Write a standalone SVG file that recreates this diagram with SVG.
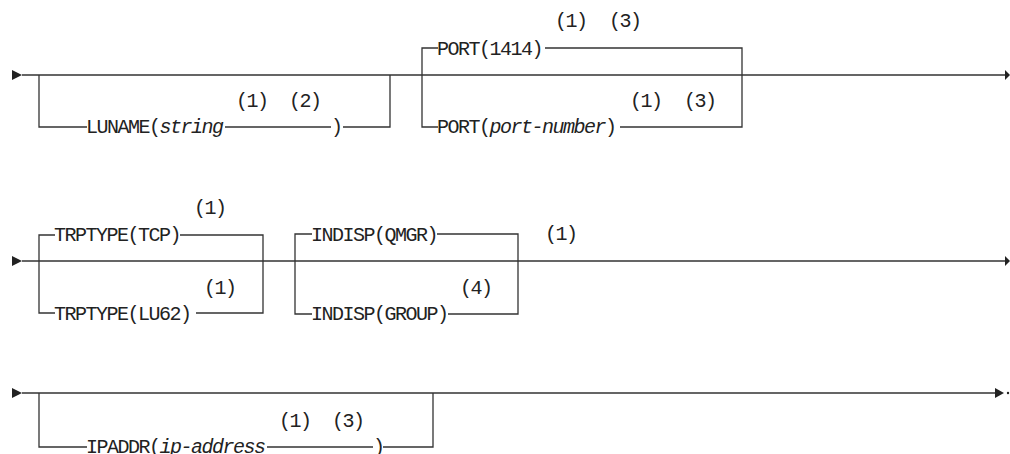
<svg xmlns="http://www.w3.org/2000/svg" width="1010" height="454" viewBox="0 0 1010 454">
<style>
.ln{stroke:#333;stroke-width:1.3;fill:none}
.t{font-family:"Liberation Mono","DejaVu Sans Mono",monospace;font-size:20px;letter-spacing:-1.5px;fill:#222}
.i{font-style:italic}
.ah{fill:#222}
</style>
<rect width="1010" height="454" fill="#fff"/>
<g id="connectors">
<path class="ln" d="M22 75H1006M22 261H1006M22 393H997"/>
<polygon class="ah" points="12,70 22,75 12,80"/>
<polygon class="ah" points="12,256 22,261 12,266"/>
<polygon class="ah" points="12,388 22,393 12,398"/>
<polygon class="ah" points="1005,70 1010,75 1005,80"/>
<polygon class="ah" points="1005,256 1010,261 1005,266"/>
<polygon class="ah" points="995,388 1004,393 995,398"/>
<circle class="ah" cx="1008" cy="393" r="1.2"/>
</g>
<g id="luname">
<path class="ln" d="M39 75V127H87M225 127H331M343 127H390V75"/>
<text class="t" x="86" y="133">LUNAME(<tspan class="i">string</tspan></text>
<text class="t" x="331" y="133">)</text>
<text class="t" x="236" y="107">(1)</text>
<text class="t" x="289" y="107">(2)</text>
</g>
<g id="port">
<path class="ln" d="M438 48H422V127H438M545 48H742V127H620"/>
<text class="t" x="437" y="55">PORT(1414)</text>
<text class="t" x="555" y="27">(1)</text>
<text class="t" x="609" y="27">(3)</text>
<text class="t" x="437" y="133">PORT(<tspan class="i">port-number</tspan>)</text>
<text class="t" x="630" y="107">(1)</text>
<text class="t" x="684" y="107">(3)</text>
</g>
<g id="trptype">
<path class="ln" d="M55 235H39V313H55M180 235H263V313H196"/>
<text class="t" x="54" y="241">TRPTYPE(TCP)</text>
<text class="t" x="194" y="214">(1)</text>
<text class="t" x="54" y="320">TRPTYPE(LU62)</text>
<text class="t" x="204" y="294">(1)</text>
</g>
<g id="indisp">
<path class="ln" d="M312 234H295V314H312M437 234H518V314H448"/>
<text class="t" x="311" y="241">INDISP(QMGR)</text>
<text class="t" x="545" y="240">(1)</text>
<text class="t" x="311" y="320">INDISP(GROUP)</text>
<text class="t" x="460" y="294">(4)</text>
</g>
<g id="ipaddr">
<path class="ln" d="M39 393V447H87M267 447H373M383 447H433V393"/>
<text class="t" x="86" y="453">IPADDR(<tspan class="i">ip-address</tspan></text>
<text class="t" x="373" y="453">)</text>
<text class="t" x="279" y="427">(1)</text>
<text class="t" x="332" y="427">(3)</text>
</g>
</svg>
